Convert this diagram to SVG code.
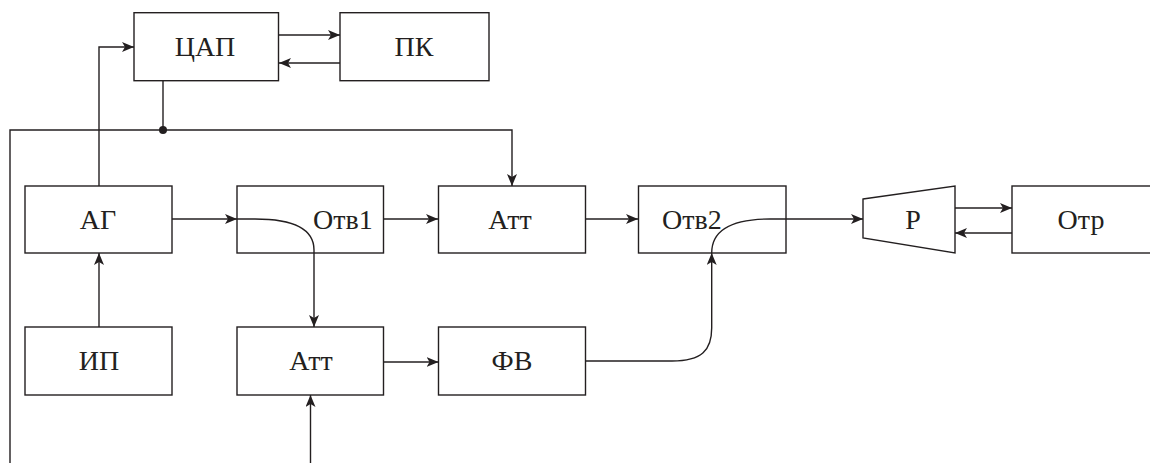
<svg xmlns="http://www.w3.org/2000/svg" width="1150" height="463" viewBox="0 0 1150 463">
<style>
.box{fill:#fff;stroke:#231f20;stroke-width:1.4}
.ln{fill:none;stroke:#231f20;stroke-width:1.4}
.t{font-family:"Liberation Serif","Times New Roman",serif;font-size:28px;fill:#231f20}
.m{text-anchor:middle}
</style>
<defs>
<marker id="ah" viewBox="0 0 12 10" refX="12" refY="5" markerWidth="12" markerHeight="10" markerUnits="userSpaceOnUse" orient="auto">
<path d="M0,0 L12,5 L0,10 L3,5 Z" fill="#231f20"/>
</marker>
</defs>
<g id="dac"><rect class="box" x="134" y="12.7" width="144.5" height="68"/><text class="t m" x="205" y="56">ЦАП</text></g>
<g id="pc"><rect class="box" x="340" y="12.7" width="149" height="68"/><text class="t m" x="414" y="56">ПК</text></g>
<g id="ag"><rect class="box" x="25" y="186" width="147" height="67"/><text class="t m" x="98" y="229">АГ</text></g>
<g id="otv1"><rect class="box" x="237" y="186" width="146.5" height="67"/><text class="t" x="313" y="229">Отв1</text></g>
<g id="att1"><rect class="box" x="438.5" y="186" width="147" height="67"/><text class="t m" x="510" y="229">Атт</text></g>
<g id="otv2"><rect class="box" x="638.5" y="186" width="147.5" height="67"/><text class="t" x="662" y="229">Отв2</text></g>
<g id="r"><polygon class="box" points="863,199 955,186 955,253 863,238"/><text class="t m" x="913" y="229">Р</text></g>
<g id="otr"><rect class="box" x="1012" y="186" width="150" height="67"/><text class="t m" x="1081" y="229">Отр</text></g>
<g id="ip"><rect class="box" x="25" y="327" width="147" height="68"/><text class="t m" x="99" y="370">ИП</text></g>
<g id="att2"><rect class="box" x="237" y="327" width="146.5" height="68"/><text class="t m" x="311" y="370">Атт</text></g>
<g id="fv"><rect class="box" x="438.5" y="327" width="147" height="68"/><text class="t m" x="512" y="370">ФВ</text></g>
<g id="connectors">
<path class="ln" d="M279,35 L340,35" marker-end="url(#ah)"/>
<path class="ln" d="M340,63 L279,63" marker-end="url(#ah)"/>
<path class="ln" d="M99,186 L99,47 L134,47" marker-end="url(#ah)"/>
<path class="ln" d="M163,81 L163,130"/>
<path class="ln" d="M10,463 L10,130 L512,130 L512,186" marker-end="url(#ah)"/>
<circle cx="163" cy="130" r="4" fill="#231f20"/>
<path class="ln" d="M99,327 L99,253" marker-end="url(#ah)"/>
<path class="ln" d="M172,219 L237,219" marker-end="url(#ah)"/>
<path class="ln" d="M237,219 L255,219 C292,219 314,228 314,250 L314,327" marker-end="url(#ah)"/>
<path class="ln" d="M383,219 L438,219" marker-end="url(#ah)"/>
<path class="ln" d="M585.5,219 L638,219" marker-end="url(#ah)"/>
<path class="ln" d="M384,362 L438.5,362" marker-end="url(#ah)"/>
<path class="ln" d="M585.5,361 L672,361 C702,361 711.7,350 711.7,328 L711.7,253" marker-end="url(#ah)"/>
<path class="ln" d="M711.7,253 C711.7,232 728,219 770,219 L863,219" marker-end="url(#ah)"/>
<path class="ln" d="M955,208 L1012,208" marker-end="url(#ah)"/>
<path class="ln" d="M1012,233 L955,233" marker-end="url(#ah)"/>
<path class="ln" d="M310.5,463 L310.5,395" marker-end="url(#ah)"/>
</g>
</svg>
